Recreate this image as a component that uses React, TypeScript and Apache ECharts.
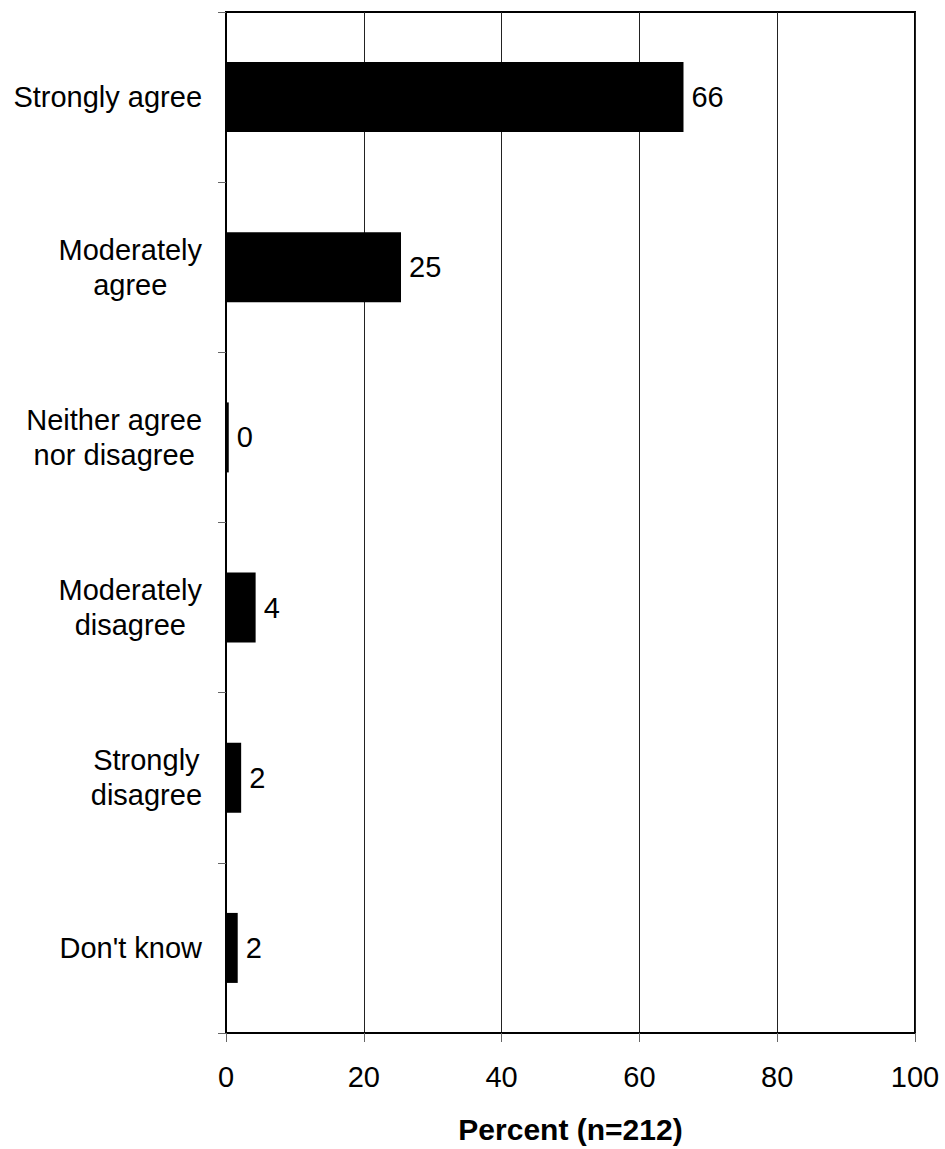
import React, { useEffect, useRef } from "react";
import * as echarts from "echarts";

const categories = [
  "Strongly agree",
  "Moderately\nagree",
  "Neither agree\nnor disagree",
  "Moderately\ndisagree",
  "Strongly\ndisagree",
  "Don't know",
];
const percents = [66.4, 25.4, 0.4, 4.3, 2.2, 1.7];
const xTicks = [0, 20, 40, 60, 80, 100];
const axisTitle = "Percent (n=212)";

const FONT = "Liberation Sans, Arial, sans-serif";

export default function App() {
  const ref = useRef<HTMLDivElement>(null);
  useEffect(() => {
    document.body.style.margin = "0";
    document.body.style.overflow = "hidden";
    const chart = echarts.init(ref.current!, null, { renderer: "svg" });
    chart.setOption({
      animation: false,
      backgroundColor: "#ffffff",
      textStyle: { fontFamily: FONT },
      grid: {
        left: 226,
        top: 12,
        right: 30,
        bottom: 112,
        show: true,
        borderColor: "#000",
        borderWidth: 2,
        containLabel: false,
      },
      xAxis: {
        type: "value",
        min: xTicks[0],
        max: xTicks[xTicks.length - 1],
        interval: 20,
        name: axisTitle,
        nameLocation: "middle",
        nameGap: 81,
        nameTextStyle: { fontSize: 30, fontWeight: "bold", color: "#000", fontFamily: FONT },
        axisLine: { show: true, lineStyle: { color: "#000", width: 2 } },
        axisTick: { show: true, inside: false, length: 9, lineStyle: { color: "#666", width: 1 } },
        axisLabel: { fontSize: 29, color: "#000", margin: 29, fontFamily: FONT },
        splitLine: { show: true, lineStyle: { color: "#222", width: 1 } },
      },
      yAxis: {
        type: "category",
        data: categories,
        inverse: true,
        axisLine: { show: true, lineStyle: { color: "#000", width: 2 } },
        axisTick: { show: true, inside: false, length: 8, alignWithLabel: false, lineStyle: { color: "#666", width: 1 } },
        splitLine: { show: false },
        axisLabel: {
          margin: 24,
          color: "#000",
          fontSize: 29,
          fontFamily: FONT,
          formatter: (v: string) =>
            v
              .split("\n")
              .map((l) => "{c|" + l + "}")
              .join("\n"),
          rich: {
            c: { align: "center", fontSize: 29, lineHeight: 35, fontFamily: FONT, color: "#000" },
          },
        },
      },
      series: [
        {
          type: "bar",
          data: percents,
          barWidth: 70,
          itemStyle: { color: "#000" },
          label: {
            show: true,
            position: "right",
            distance: 8,
            fontSize: 29,
            color: "#000",
            fontFamily: FONT,
            formatter: (p: any) => String(Math.round(p.value)),
          },
        },
      ],
    });
    return () => chart.dispose();
  }, []);
  return (
    <div
      ref={ref}
      style={{ position: "fixed", left: 0, top: 0, width: 945, height: 1149 }}
    />
  );
}
